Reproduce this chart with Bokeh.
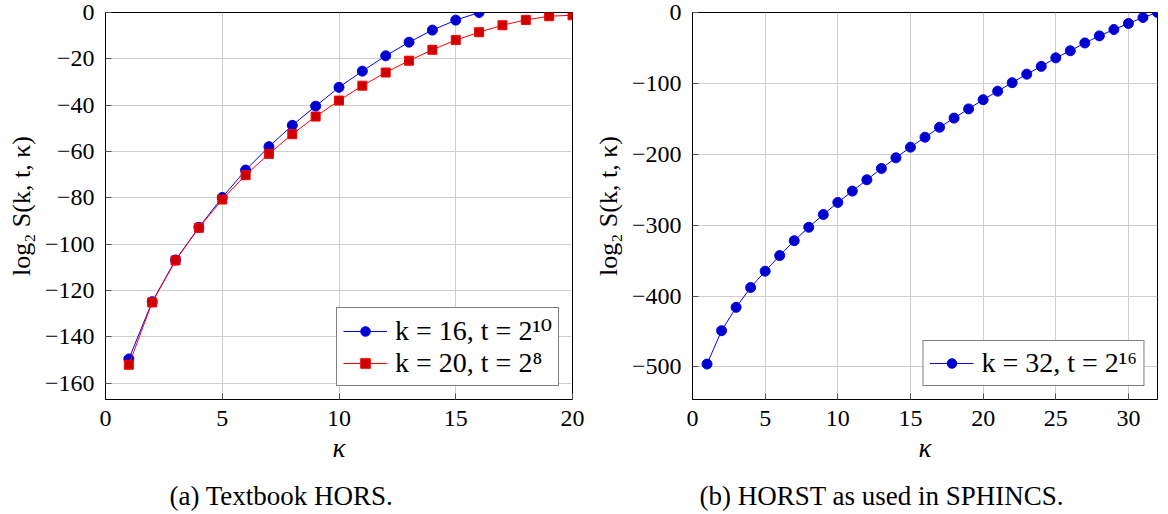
from bokeh.plotting import figure
from bokeh.models import Range1d, FixedTicker, CustomJSTickFormatter, Title
from bokeh.layouts import row
from bokeh.embed import file_html
from bokeh.resources import INLINE

# ---------------- data ----------------
kappa_16 = list(range(1, 17))
logS_k16 = [-149.5, -124.8, -106.8, -92.7, -79.8, -68.0, -57.9, -48.7,
            -40.4, -32.3, -25.3, -18.7, -12.8, -7.6, -3.3, 0.0]

kappa_20 = list(range(1, 21))
logS_k20 = [-152.0, -125.1, -107.0, -92.9, -80.7, -70.2, -61.0, -52.5,
            -44.9, -38.0, -31.6, -25.9, -20.8, -16.1, -11.9, -8.5,
            -5.5, -3.2, -1.6, -1.2]

kappa_32 = list(range(1, 33))
logS_k32 = [-496, -449, -416, -388, -365, -343, -322, -303, -285, -268,
            -252, -236, -220, -205, -190, -176, -162, -149, -136, -123,
            -111, -99, -87, -76, -64, -54, -43, -33, -24, -15.5, -7, 0]

label_k16 = "k = 16, t = 2¹⁰"
label_k20 = "k = 20, t = 2⁸"
label_k32 = "k = 32, t = 2¹⁶"

xticks_a = [0, 5, 10, 15, 20]
yticks_a = [0, -20, -40, -60, -80, -100, -120, -140, -160]
xticks_b = [0, 5, 10, 15, 20, 25, 30]
yticks_b = [0, -100, -200, -300, -400, -500]

xlabel = "κ"
ylabel = "log₂ S(k, t, κ)"
caption_a = "(a) Textbook HORS."
caption_b = "(b) HORST as used in SPHINCS."

# ---------------- style ----------------
FONT = "Liberation Serif, DejaVu Serif"
BLUE_LINE, BLUE_FILL = "#0000ff", "#0000cc"
RED_LINE, RED_FILL = "#ff0000", "#cc0000"

minus_fmt = "return tick < 0 ? '\\u2212' + String(-tick) : String(tick);"


def make_fig(xmax, ymin, xticks, yticks, fw, left_border, right_border):
    p = figure(frame_width=fw, frame_height=387,
               x_range=Range1d(0, xmax), y_range=Range1d(ymin, 0),
               output_backend="svg", toolbar_location=None,
               min_border_left=left_border, min_border_right=right_border,
               min_border_top=12, min_border_bottom=115,
               background_fill_color="white", border_fill_color="white")
    p.outline_line_color = "black"
    p.outline_line_width = 1
    p.outline_line_alpha = 1
    for ax in (p.xaxis[0], p.yaxis[0]):
        ax.axis_line_color = "black"
        ax.major_tick_in = 6
        ax.major_tick_out = 0
        ax.major_tick_line_color = "#555555"
        ax.minor_tick_line_color = None
        ax.major_label_text_font = FONT
        ax.major_label_text_font_size = "24px"
        ax.major_label_text_color = "black"
        ax.axis_label_text_font = FONT
        ax.axis_label_text_color = "black"
        ax.formatter = CustomJSTickFormatter(code=minus_fmt)
    p.xaxis[0].ticker = FixedTicker(ticks=xticks)
    p.yaxis[0].ticker = FixedTicker(ticks=yticks)
    p.xaxis[0].major_label_standoff = 11
    p.yaxis[0].major_label_standoff = 11
    p.xaxis[0].axis_label = xlabel
    p.xaxis[0].axis_label_text_font_size = "27px"
    p.xaxis[0].axis_label_text_font_style = "italic"
    p.xaxis[0].axis_label_standoff = 4
    p.yaxis[0].axis_label = ylabel
    p.yaxis[0].axis_label_text_font_size = "26px"
    p.yaxis[0].axis_label_text_font_style = "normal"
    p.yaxis[0].axis_label_standoff = 6
    p.xgrid.grid_line_color = "#cfcfcf"
    p.ygrid.grid_line_color = "#cfcfcf"
    p.xgrid.ticker = FixedTicker(ticks=xticks)
    p.ygrid.ticker = FixedTicker(ticks=yticks)
    return p


def add_caption(p, text, offset):
    spacer = Title(text=" ", text_font_size="6px", standoff=5)
    p.add_layout(spacer, "below")
    cap = Title(text=text, align="left", offset=offset, vertical_align="bottom",
                standoff=0, text_font=FONT, text_font_size="27px",
                text_font_style="normal", text_color="black")
    p.add_layout(cap, "below")


def style_legend(p):
    lg = p.legend[0]
    lg.location = "bottom_right"
    lg.margin = 13
    lg.padding = 6
    lg.spacing = 0
    lg.glyph_width = 44
    lg.glyph_height = 24
    lg.label_standoff = 8
    lg.label_text_font = FONT
    lg.label_text_font_size = "28px"
    lg.label_text_color = "black"
    lg.border_line_color = "black"
    lg.border_line_width = 1
    lg.background_fill_color = "white"
    lg.background_fill_alpha = 1


# ---------------- panel (a) ----------------
pa = make_fig(20, -167, xticks_a, yticks_a, 467, 105, 16)
pa.line(kappa_16, logS_k16, line_color=BLUE_LINE, line_width=1, legend_label=label_k16)
pa.scatter(kappa_16, logS_k16, marker="circle", size=10, fill_color=BLUE_FILL,
           line_color=BLUE_LINE, legend_label=label_k16)
pa.line(kappa_20, logS_k20, line_color=RED_LINE, line_width=1, legend_label=label_k20)
pa.scatter(kappa_20, logS_k20, marker="square", size=9, fill_color=RED_FILL,
           line_color=RED_LINE, legend_label=label_k20)
style_legend(pa)
add_caption(pa, caption_a, 64)

# ---------------- panel (b) ----------------
pb = make_fig(32, -546, xticks_b, yticks_b, 465, 104, 8)
pb.line(kappa_32, logS_k32, line_color=BLUE_LINE, line_width=1, legend_label=label_k32)
pb.scatter(kappa_32, logS_k32, marker="circle", size=10, fill_color=BLUE_FILL,
           line_color=BLUE_LINE, legend_label=label_k32)
style_legend(pb)
add_caption(pb, caption_b, 7)

layout = row(pa, pb)
open("out.html", "w").write(file_html(layout, INLINE))
